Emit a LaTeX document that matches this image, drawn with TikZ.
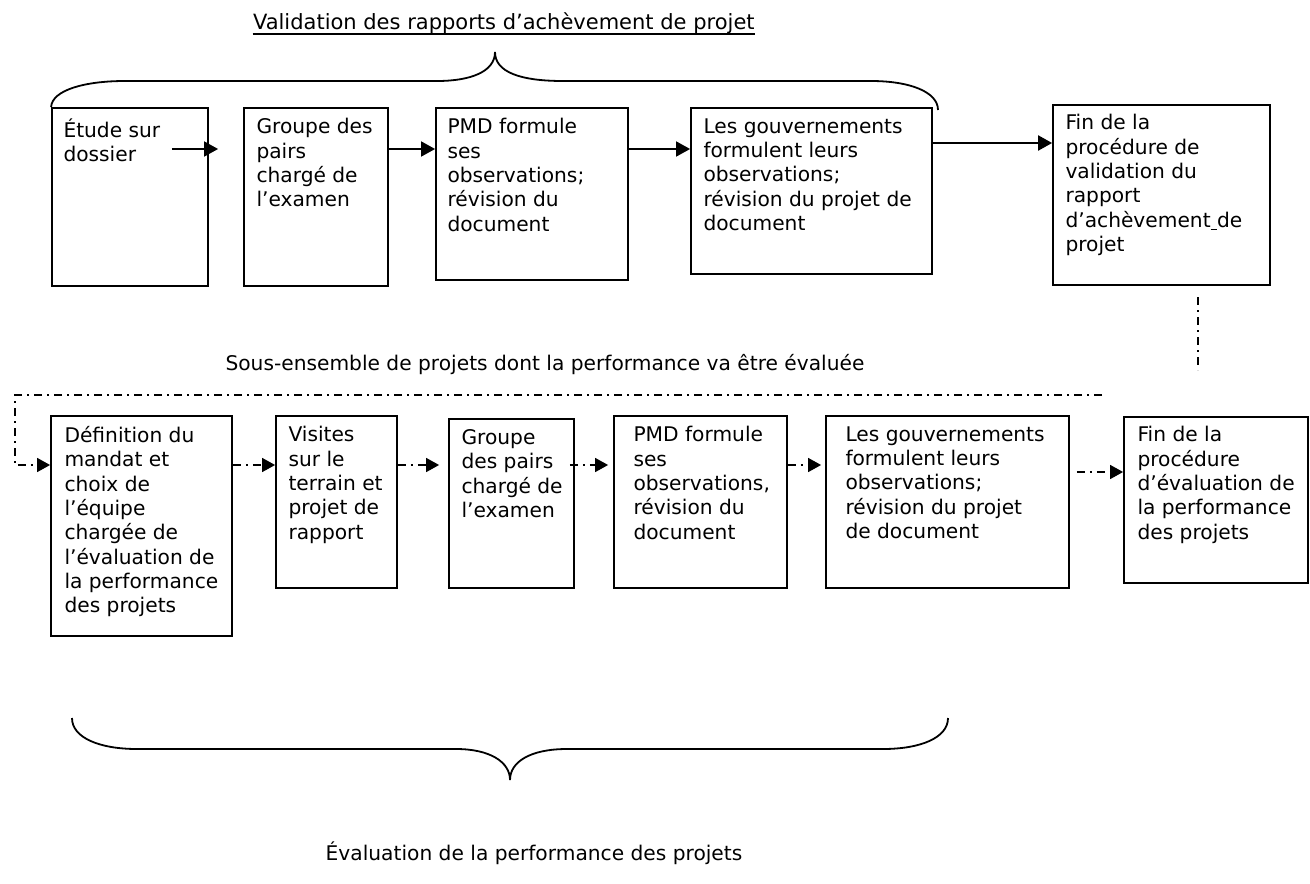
\documentclass[tikz,border=0pt]{standalone}
\usepackage{fontspec}
\setmainfont{DejaVu Sans}
\usetikzlibrary{calc,fit,arrows.meta}

\tikzset{
  box/.style={draw, line width=0.9pt, inner sep=0pt},
  txt/.style={anchor=north west, align=left, inner sep=0pt,
    execute at begin node={\rule{0pt}{10pt}}},
  lbl/.style={anchor=base, inner sep=0pt},
  flow/.style={line width=0.85pt, -{Triangle[length=7pt,width=7.5pt]}},
  dashdot/.style={line width=0.7pt, dash pattern=on 4pt off 2.5pt on 1pt off 2.5pt},
  dflow/.style={dashdot, -{Triangle[length=6.5pt,width=7pt]}},
  brace/.style={line width=0.9pt},
}

\begin{document}
\begin{tikzpicture}[x=0.5pt,y=-0.5pt,font=\fontsize{10.1}{12.15}\selectfont]
\useasboundingbox (0,0) rectangle (1310,883);

% titre du haut, souligne
\node[lbl, anchor=base east, font=\fontsize{10.5}{12.6}\selectfont] (titre) at (755,30) {Validation des rapports d’achèvement de projet};
\draw[line width=0.6pt] ($(titre.base west)+(0,4)$) -- ($(titre.base east)+(0,4)$);

% hauteurs des fleches
\coordinate (ht) at (0,149);
\coordinate (hq) at (0,143);
\coordinate (hd) at (0,465);
\coordinate (hf) at (0,472);

% ligne du haut : validation
\node[box, fit={(52,108) (208,286)}] (etude) {};
\node[txt] (etude-t) at ($(etude.north west)+(12,11)$) {Étude sur\\dossier};

\node[box, fit={(244,108) (388,286)}] (pairs) {};
\node[txt] (pairs-t) at ($(pairs.north west)+(13,11)$) {Groupe des\\pairs\\chargé de\\l’examen};

\node[box, fit={(436,108) (628,280)}] (pmd) {};
\node[txt] (pmd-t) at ($(pmd.north west)+(12,11)$) {PMD formule\\ses\\observations;\\révision du\\document};

\node[box, fit={(691,108) (932,274)}] (gouv) {};
\node[txt] (gouv-t) at ($(gouv.north west)+(13,11)$) {Les gouvernements\\formulent leurs\\observations;\\révision du projet de\\document};

\node[box, fit={(1053,105) (1270,285)}] (finval) {};
\node[txt] (finval-t) at ($(finval.north west)+(13,10)$) {Fin de la\\procédure de\\validation du\\rapport\\d’achèvement\underline{\ }de\\projet};

\draw[flow] ($(etude.east |- ht)+(-37,0)$) -- ($(pairs.west |- ht)+(-25,0)$);
\draw[flow] (pairs.east |- ht) -- (pmd.west |- ht);
\draw[flow] (pmd.east |- ht) -- (gouv.west |- ht);
\draw[flow, line width=1.1pt] (gouv.east |- hq) -- (finval.west |- hq);

% accolade du haut
\draw[brace] (etude.north west) .. controls (52,90) and (85,81) .. (125,81) -- (437,81)
  .. controls (470,81) and (495,72) .. (495,52)
  .. controls (495,72) and (520,81) .. (563,81) -- (871,81)
  .. controls (910,81) and (938,92) .. (938,110);

% sous-ensemble
\coordinate (vtop) at (1198,297);
\coordinate (vbot) at (1198,370);
\draw[dashdot] (vtop) -- (vbot);
\node[lbl] (sous) at (545,370) {Sous-ensemble de projets dont la performance va être évaluée};

% ligne du bas : evaluation
\node[box, fit={(51,416) (232,636)}] (mandat) {};
\node[txt] (mandat-t) at ($(mandat.north west)+(14,11)$) {Définition du\\mandat et\\choix de\\l’équipe\\chargée de\\l’évaluation de\\la performance\\des projets};

\node[box, fit={(276,416) (397,588)}] (visites) {};
\node[txt] (visites-t) at ($(visites.north west)+(13,11)$) {Visites\\sur le\\terrain et\\projet de\\rapport};

\node[box, fit={(449,419) (574,588)}] (pairsb) {};
\node[txt] (pairsb-t) at ($(pairsb.north west)+(13,11)$) {Groupe\\des pairs\\chargé de\\l’examen};

\node[box, fit={(614,416) (787,588)}] (pmdb) {};
\node[txt] (pmdb-t) at ($(pmdb.north west)+(20,11)$) {PMD formule\\ses\\observations,\\révision du\\document};

\node[box, fit={(826,416) (1069,588)}] (gouvb) {};
\node[txt] (gouvb-t) at ($(gouvb.north west)+(20,11)$) {Les gouvernements\\formulent leurs\\observations;\\révision du projet\\de document};

\node[box, fit={(1124,417) (1308,583)}] (fineval) {};
\node[txt] (fineval-t) at ($(fineval.north west)+(14,10)$) {Fin de la\\procédure\\d’évaluation de\\la performance\\des projets};

\coordinate (hr) at (1102,395);
\coordinate (hl) at (15,395);
\draw[dflow] (hr) -- (hl) -- (hl |- hd) -- (mandat.west |- hd);
\draw[dflow] (mandat.east |- hd) -- (visites.west |- hd);
\draw[dflow] (visites.east |- hd) -- ($(pairsb.west |- hd)+(-9,0)$);
\draw[dflow] ($(pairsb.east |- hd)+(-5,0)$) -- ($(pmdb.west |- hd)+(-5,0)$);
\draw[dflow] (pmdb.east |- hd) -- ($(gouvb.west |- hd)+(-4,0)$);
\draw[dflow] ($(gouvb.east |- hf)+(7,0)$) -- (fineval.west |- hf);

% accolade du bas
\draw[brace] (72,718) .. controls (72,738) and (100,749) .. (137,749) -- (456,749)
  .. controls (490,749) and (510,762) .. (510,780)
  .. controls (510,762) and (530,749) .. (567,749) -- (883,749)
  .. controls (920,749) and (948,738) .. (948,718);

\node[lbl] (evalperf) at (534,860) {Évaluation de la performance des projets};
\end{tikzpicture}
\end{document}
